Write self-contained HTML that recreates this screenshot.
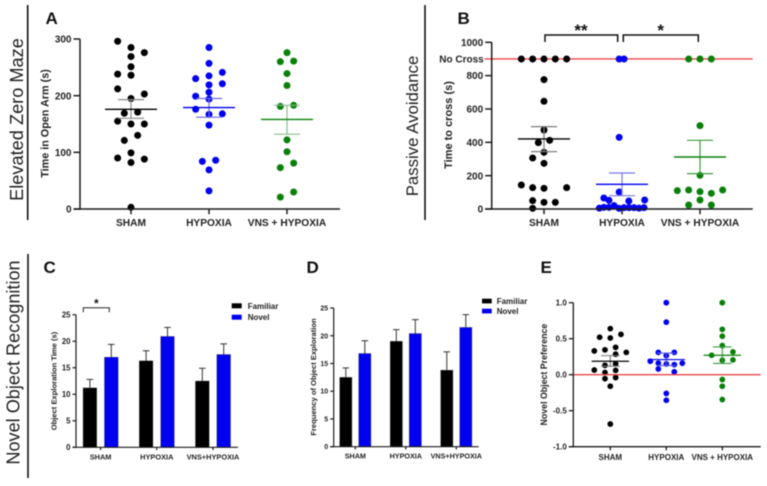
<!DOCTYPE html>
<html lang="en">
<head>
<meta charset="utf-8">
<title>Behavioural test results</title>
<style>
html,body{margin:0;padding:0;background:#fff;}
#figure{display:block;width:767px;height:486px;filter:blur(0.4px);font-family:"Liberation Sans",sans-serif;}
text{font-family:"Liberation Sans",sans-serif;}
.side{font-size:18.2px;fill:#222;text-anchor:middle;}
.letter{font-size:17px;font-weight:bold;fill:#111;}
.legend{font-size:8px;font-weight:bold;fill:#222;}
.star{font-size:17px;font-weight:bold;fill:#111;text-anchor:middle;}
</style>
</head>
<body>
<svg id="figure" xmlns="http://www.w3.org/2000/svg" width="767" height="486" viewBox="0 0 767 486">
  <rect x="0" y="0" width="767" height="486" fill="#fff"/>

  <line x1="27.7" y1="5" x2="27.7" y2="220" stroke="#111" stroke-width="1.6"/>
  <line x1="425" y1="5" x2="425" y2="220" stroke="#111" stroke-width="1.6"/>
  <line x1="28" y1="254" x2="28" y2="478" stroke="#111" stroke-width="1.6"/>

  <text class="side" transform="translate(23,119.5) rotate(-90)">Elevated Zero Maze</text>
  <text class="side" transform="translate(418,126) rotate(-90)" style="font-size:16.8px">Passive Avoidance</text>
  <text class="side" transform="translate(19.5,362.5) rotate(-90)" style="font-size:18.1px">Novel Object Recognition</text>

  <text class="letter" x="45.5" y="24">A</text>
  <text class="letter" x="457.5" y="24">B</text>
  <text class="letter" x="43.5" y="273">C</text>
  <text class="letter" x="306.5" y="273">D</text>
  <text class="letter" x="540.5" y="273">E</text>

  <g id="panel-a"></g>
  <g id="panel-b"></g>
  <g id="panel-c"></g>
  <g id="panel-d"></g>
  <g id="panel-e"></g>

  <g>
    <path d="M545 42V35H617.7V42" fill="none" stroke="#111" stroke-width="1.5"/>
    <text class="star" x="581" y="36">**</text>
  </g>
  <g>
    <path d="M623.3 42V35H698.3V42" fill="none" stroke="#111" stroke-width="1.5"/>
    <text class="star" x="660.7" y="36">*</text>
  </g>
  <g>
    <path d="M83.3 312.3V307.7H109.3V312.3" fill="none" stroke="#222" stroke-width="1"/>
    <text class="star" x="96.3" y="307.5" style="font-size:12px">*</text>
  </g>

  <g>
    <rect x="231.7" y="303.3" width="10" height="5" fill="#000"/>
    <text class="legend" x="247.7" y="308.8">Familiar</text>
    <rect x="231.7" y="314.7" width="10" height="5" fill="#0000f0"/>
    <text class="legend" x="247.7" y="320">Novel</text>
  </g>
  <g>
    <rect x="482" y="298.7" width="9.7" height="4.7" fill="#000"/>
    <text class="legend" x="496.7" y="303.8">Familiar</text>
    <rect x="482" y="308.7" width="9.7" height="4.7" fill="#0000f0"/>
    <text class="legend" x="496.7" y="313.8">Novel</text>
  </g>
</svg>

<script>
// ---------- Shared categories ----------
const scatterCategories = ['SHAM', 'HYPOXIA', 'VNS + HYPOXIA'];
const barCategories = ['SHAM', 'HYPOXIA', 'VNS+HYPOXIA'];

// ---------- Panel A: time in open arm (s) ----------
const aTicks = [0, 100, 200, 300];
const aShamValues = [296, 285, 276, 269, 251, 238, 236, 212, 203, 195, 169, 171, 155, 150, 150, 130, 121, 99, 90, 88, 82, 3];
const aShamSlots = [-2, 0, 2, 0, 0, -2, 0, -2, 2, 0, -1, 1, -2, 0, 2, 1, -1, 0, -2, 2, 0, 0];
const aHypoxiaValues = [285, 257, 241, 235, 230, 219, 221, 206, 199, 194, 176, 167, 168, 148, 84, 86, 69, 32];
const aHypoxiaSlots = [0, 0, 2, 0, -2, 0, 2, 0, -2, 0, -2, 0, 2, 0, -1, 1, 0, 0];
const aVnsValues = [276, 260, 261, 239, 218, 181, 183, 122, 101, 81, 73, 30, 21];
const aVnsSlots = [0, -1, 1, 0, 0, -1, 1, 0, 0, 1, -1, 1, -1];
const aMeans = [176, 179, 158];
const aErrLow = [160, 162, 132];
const aErrHigh = [193, 195, 183];

// ---------- Panel B: time to cross (s) ----------
const bTicks = [0, 200, 400, 600, 800, 1000];
const bNoCross = 900;
const bShamValues = [900, 900, 900, 900, 900, 776, 646, 474, 412, 398, 340, 306, 274, 144, 128, 124, 128, 50, 40, 40, 4];
const bShamSlots = [-2, -1, 0, 1, 2, 0, 0, 0, 0.5, -0.5, 0, -1, 0, -2, -1, 0, 2, -1, 0, 1, -1];
const bHypoxiaValues = [900, 900, 430, 102, 66, 52, 48, 54, 5, 10, 10, 20, 4, 8, 8, 8, 5, 8];
const bHypoxiaSlots = [-0.25, 0.18, -0.25, -0.25, -1.6, -1.15, 0.6, 2, -2, -1.6, -1.15, -0.7, -0.26, 0.18, 0.62, 1.06, 1.5, 1.94];
const bVnsValues = [900, 900, 900, 500, 202, 110, 114, 104, 94, 114, 54, 24, 24];
const bVnsSlots = [-1, 0, 1, 0, 0, -2, -1, 0, 1, 2, 0, -1, 1];
const bMeans = [420, 148, 312];
const bErrLow = [344, 80, 212];
const bErrHigh = [494, 216, 412];

// ---------- Panel C: object exploration time (s) ----------
const cTicks = [0, 5, 10, 15, 20, 25];
const cFamiliar = [11.2, 16.3, 12.5];
const cFamiliarTop = [12.8, 18.2, 14.9];
const cNovel = [17.0, 20.9, 17.5];
const cNovelTop = [19.4, 22.6, 19.5];

// ---------- Panel D: frequency of object exploration ----------
const dTicks = [0, 5, 10, 15, 20, 25];
const dFamiliar = [12.5, 19.0, 13.8];
const dFamiliarTop = [14.2, 21.1, 17.1];
const dNovel = [16.8, 20.4, 21.5];
const dNovelTop = [19.1, 22.9, 23.8];

// ---------- Panel E: novel object preference ----------
const eTicks = [-1, -0.5, 0, 0.5, 1];
const eBaseline = 0;
const eShamValues = [0.64, 0.56, 0.52, 0.51, 0.38, 0.345, 0.33, 0.31, 0.285, 0.15, 0.13, 0.065, 0.06, 0.03, -0.04, -0.055, -0.16, -0.685];
const eShamSlots = [0, 2, -2, 0, 1, -1, -3, 3, 1, 1, -1, -3, 1, -1, 1, -1, 0, 0];
const eHypoxiaValues = [1, 0.73, 0.31, 0.31, 0.265, 0.187, 0.16, 0.16, 0.15, 0.14, 0.08, 0.04, -0.26, -0.355];
const eHypoxiaSlots = [0, 0, -1.5, 1.5, 0, -3, 3, -1.5, 0, 1.5, -1.5, 1.5, 0, 0];
const eVnsValues = [1, 0.63, 0.535, 0.405, 0.317, 0.27, 0.206, 0.2, -0.067, -0.16, -0.345];
const eVnsSlots = [0, 0, 0, 0, 2, -2, 2, 0, 0, 0, 0];
const eMeans = [0.187, 0.21, 0.27];
const eErrLow = [0.118, 0.127, 0.157];
const eErrHigh = [0.265, 0.30, 0.385];

// ---------- Drawing helpers ----------
const SVG_NS = 'http://www.w3.org/2000/svg';
const AXIS_COLOR = '#1c1c1c';
const TEXT_COLOR = '#222';

function make(parent, tag, attrs) {
  const el = document.createElementNS(SVG_NS, tag);
  for (const key in attrs) {
    el.setAttribute(key, attrs[key]);
  }
  parent.appendChild(el);
  return el;
}

function line(parent, name, x1, y1, x2, y2, color, width) {
  const el = make(parent, 'line', { x1: x1, y1: y1, x2: x2, y2: y2, stroke: color, 'stroke-width': width });
  
  
  return el;
}

function label(parent, name, content, x, y, size, anchor, weight, rotate) {
  const attrs = { 'font-size': size, 'font-weight': weight, 'text-anchor': anchor, fill: TEXT_COLOR };
  if (rotate) {
    attrs.transform = 'translate(' + x + ',' + y + ') rotate(-90)';
  } else {
    attrs.x = x;
    attrs.y = y;
  }
  const el = make(parent, 'text', attrs);
  
  
  el.textContent = content;
  return el;
}

function linearY(min, max, yTop, yBottom) {
  return function (v) {
    return yBottom - (v - min) / (max - min) * (yBottom - yTop);
  };
}

function bandX(first, step) {
  return function (i) {
    return first + i * step;
  };
}

function drawAxes(g, o, yScale, xScale, categories, ticks, decimals) {
  line(g, 'y-axis-line', o.axisX, o.yTop, o.axisX, o.yBottom + o.lineWidth / 2, AXIS_COLOR, o.lineWidth);
  line(g, 'x-axis-line', o.axisX - o.tickLen, o.yBottom, o.axisEnd, o.yBottom, AXIS_COLOR, o.lineWidth);
  ticks.forEach(function (t) {
    const y = yScale(t);
    line(g, 'y-tick', o.axisX - o.tickLen, y, o.axisX, y, AXIS_COLOR, o.lineWidth);
    label(g, 'y-tick-label', t.toFixed(decimals), o.axisX - o.tickLen - 2, y + o.tickSize * 0.36, o.tickSize, 'end', 'bold', false);
  });
  categories.forEach(function (c, i) {
    const x = xScale(i);
    line(g, 'x-tick', x, o.yBottom, x, o.yBottom + o.tickLen * 0.8, AXIS_COLOR, o.lineWidth);
    label(g, 'x-category-label', c, x, o.catY, o.catSize, 'middle', 'bold', false);
  });
  label(g, 'y-axis-title', o.title, o.titleX, o.titleY, o.titleSize, 'middle', 'bold', true);
}

function drawScatterSeries(g, o, yScale, xScale, idx, values, slots, mean, low, high, color, errColor, name) {
  const cx = xScale(idx);
  values.forEach(function (v, i) {
    const dot = make(g, 'circle', { cx: cx + slots[i] * o.slotWidth, cy: yScale(v), r: o.radius, fill: color });
    
    
  });
  line(g, name + '-error-bar', cx, yScale(low), cx, yScale(high), errColor, o.errWidth);
  line(g, name + '-error-cap-high', cx - o.capHalf, yScale(high), cx + o.capHalf, yScale(high), errColor, o.errWidth);
  line(g, name + '-error-cap-low', cx - o.capHalf, yScale(low), cx + o.capHalf, yScale(low), errColor, o.errWidth);
  line(g, name + '-mean-line', cx - o.meanHalf, yScale(mean), cx + o.meanHalf, yScale(mean), color, o.meanWidth);
}

function drawBar(g, o, yScale, cx, value, top, color, name) {
  const yv = yScale(value);
  const bar = make(g, 'rect', { x: cx - o.barWidth / 2, y: yv, width: o.barWidth, height: o.yBottom - yv, fill: color, stroke: '#555', 'stroke-width': 0.4 });
  
  
  line(g, name + '-error-bar', cx, yv, cx, yScale(top), '#333', 1);
  line(g, name + '-error-cap', cx - o.capHalf, yScale(top), cx + o.capHalf, yScale(top), '#333', 1);
}

function drawBars(g, o, yScale, xScale, familiar, familiarTop, novel, novelTop) {
  barCategories.forEach(function (c, i) {
    drawBar(g, o, yScale, xScale(i) - o.barOffset, familiar[i], familiarTop[i], '#000', 'familiar-' + i);
    drawBar(g, o, yScale, xScale(i) + o.barOffset, novel[i], novelTop[i], '#0000f0', 'novel-' + i);
  });
}

// ---------- Panel A ----------
(function () {
  const g = document.getElementById('panel-a');
  const o = { axisX: 80, axisEnd: 340, yTop: 39, yBottom: 209, lineWidth: 1.5, tickLen: 6.5, tickSize: 10, catY: 226, catSize: 10.2,
    title: 'Time in Open Arm (s)', titleX: 48.5, titleY: 123.5, titleSize: 10.8, slotWidth: 6.67, radius: 3.5, capHalf: 13, meanHalf: 26, errWidth: 1.2, meanWidth: 1.4 };
  const y = linearY(0, 300, o.yTop, o.yBottom);
  const x = bandX(131, 78);
  drawScatterSeries(g, o, y, x, 0, aShamValues, aShamSlots, aMeans[0], aErrLow[0], aErrHigh[0], '#000', '#8a8a8a', 'sham');
  drawScatterSeries(g, o, y, x, 1, aHypoxiaValues, aHypoxiaSlots, aMeans[1], aErrLow[1], aErrHigh[1], '#0000f0', '#6a6ae6', 'hypoxia');
  drawScatterSeries(g, o, y, x, 2, aVnsValues, aVnsSlots, aMeans[2], aErrLow[2], aErrHigh[2], '#0a800a', '#8dbb8d', 'vns-hypoxia');
  drawAxes(g, o, y, x, scatterCategories, aTicks, 0);
})();

// ---------- Panel B ----------
(function () {
  const g = document.getElementById('panel-b');
  const o = { axisX: 491.7, axisEnd: 752.7, yTop: 42.3, yBottom: 209, lineWidth: 1.5, tickLen: 6.5, tickSize: 10, catY: 226, catSize: 10.2,
    title: 'Time to cross (s)', titleX: 452, titleY: 125, titleSize: 11, slotWidth: 11.33, radius: 3.5, capHalf: 13, meanHalf: 26, errWidth: 1.2, meanWidth: 1.4 };
  const y = linearY(0, 1000, o.yTop, o.yBottom);
  const x = bandX(544, 78);
  line(g, 'no-cross-reference-line', 484.5, y(bNoCross), o.axisEnd, y(bNoCross), '#e8484c', 1.4);
  label(g, 'no-cross-label', 'No Cross', 483.7, y(bNoCross) + 3.6, 10, 'end', 'bold', false);
  drawScatterSeries(g, o, y, x, 0, bShamValues, bShamSlots, bMeans[0], bErrLow[0], bErrHigh[0], '#000', '#7d7d7d', 'sham');
  drawScatterSeries(g, o, y, x, 1, bHypoxiaValues, bHypoxiaSlots, bMeans[1], bErrLow[1], bErrHigh[1], '#0000f0', '#7a7ae6', 'hypoxia');
  drawScatterSeries(g, o, y, x, 2, bVnsValues, bVnsSlots, bMeans[2], bErrLow[2], bErrHigh[2], '#0a800a', '#3f9a3f', 'vns-hypoxia');
  drawAxes(g, o, y, x, scatterCategories, bTicks, 0);
})();

// ---------- Panel C ----------
(function () {
  const g = document.getElementById('panel-c');
  const o = { axisX: 76, axisEnd: 238, yTop: 314.7, yBottom: 447.3, lineWidth: 1.2, tickLen: 3.5, tickSize: 7.8, catY: 459.7, catSize: 7.4,
    title: 'Object Exploration Time (s)', titleX: 56.5, titleY: 381, titleSize: 7.6, barWidth: 13.7, barOffset: 10.7, capHalf: 3.3 };
  const y = linearY(0, 25, o.yTop, o.yBottom);
  const x = bandX(100.6, 56.2);
  drawBars(g, o, y, x, cFamiliar, cFamiliarTop, cNovel, cNovelTop);
  drawAxes(g, o, y, x, barCategories, cTicks, 0);
})();

// ---------- Panel D ----------
(function () {
  const g = document.getElementById('panel-d');
  const o = { axisX: 333.7, axisEnd: 478.7, yTop: 308, yBottom: 446.7, lineWidth: 1.2, tickLen: 3.5, tickSize: 7, catY: 458.3, catSize: 7.2,
    title: 'Frequency of Object Exploration', titleX: 316, titleY: 377, titleSize: 7.6, barWidth: 12.3, barOffset: 9.5, capHalf: 3.3 };
  const y = linearY(0, 25, o.yTop, o.yBottom);
  const x = bandX(355.3, 50.5);
  drawBars(g, o, y, x, dFamiliar, dFamiliarTop, dNovel, dNovelTop);
  drawAxes(g, o, y, x, barCategories, dTicks, 0);
})();

// ---------- Panel E ----------
(function () {
  const g = document.getElementById('panel-e');
  const o = { axisX: 573.3, axisEnd: 760.7, yTop: 302.7, yBottom: 446.7, lineWidth: 1.3, tickLen: 4.5, tickSize: 8, catY: 460, catSize: 8,
    title: 'Novel Object Preference', titleX: 547, titleY: 374.6, titleSize: 8.8, slotWidth: 5.33, radius: 2.9, capHalf: 9.3, meanHalf: 18.7, errWidth: 1.1, meanWidth: 1.2 };
  const y = linearY(-1, 1, o.yTop, o.yBottom);
  const x = bandX(610.3, 56);
  drawScatterSeries(g, o, y, x, 0, eShamValues, eShamSlots, eMeans[0], eErrLow[0], eErrHigh[0], '#000', '#777', 'sham');
  drawScatterSeries(g, o, y, x, 1, eHypoxiaValues, eHypoxiaSlots, eMeans[1], eErrLow[1], eErrHigh[1], '#0000f0', '#5a5ae6', 'hypoxia');
  drawScatterSeries(g, o, y, x, 2, eVnsValues, eVnsSlots, eMeans[2], eErrLow[2], eErrHigh[2], '#0a800a', '#3f9a3f', 'vns-hypoxia');
  line(g, 'zero-reference-line', o.axisX, y(eBaseline), o.axisEnd, y(eBaseline), '#e8484c', 1.3);
  drawAxes(g, o, y, x, scatterCategories, eTicks, 1);
})();
</script>
</body>
</html>
